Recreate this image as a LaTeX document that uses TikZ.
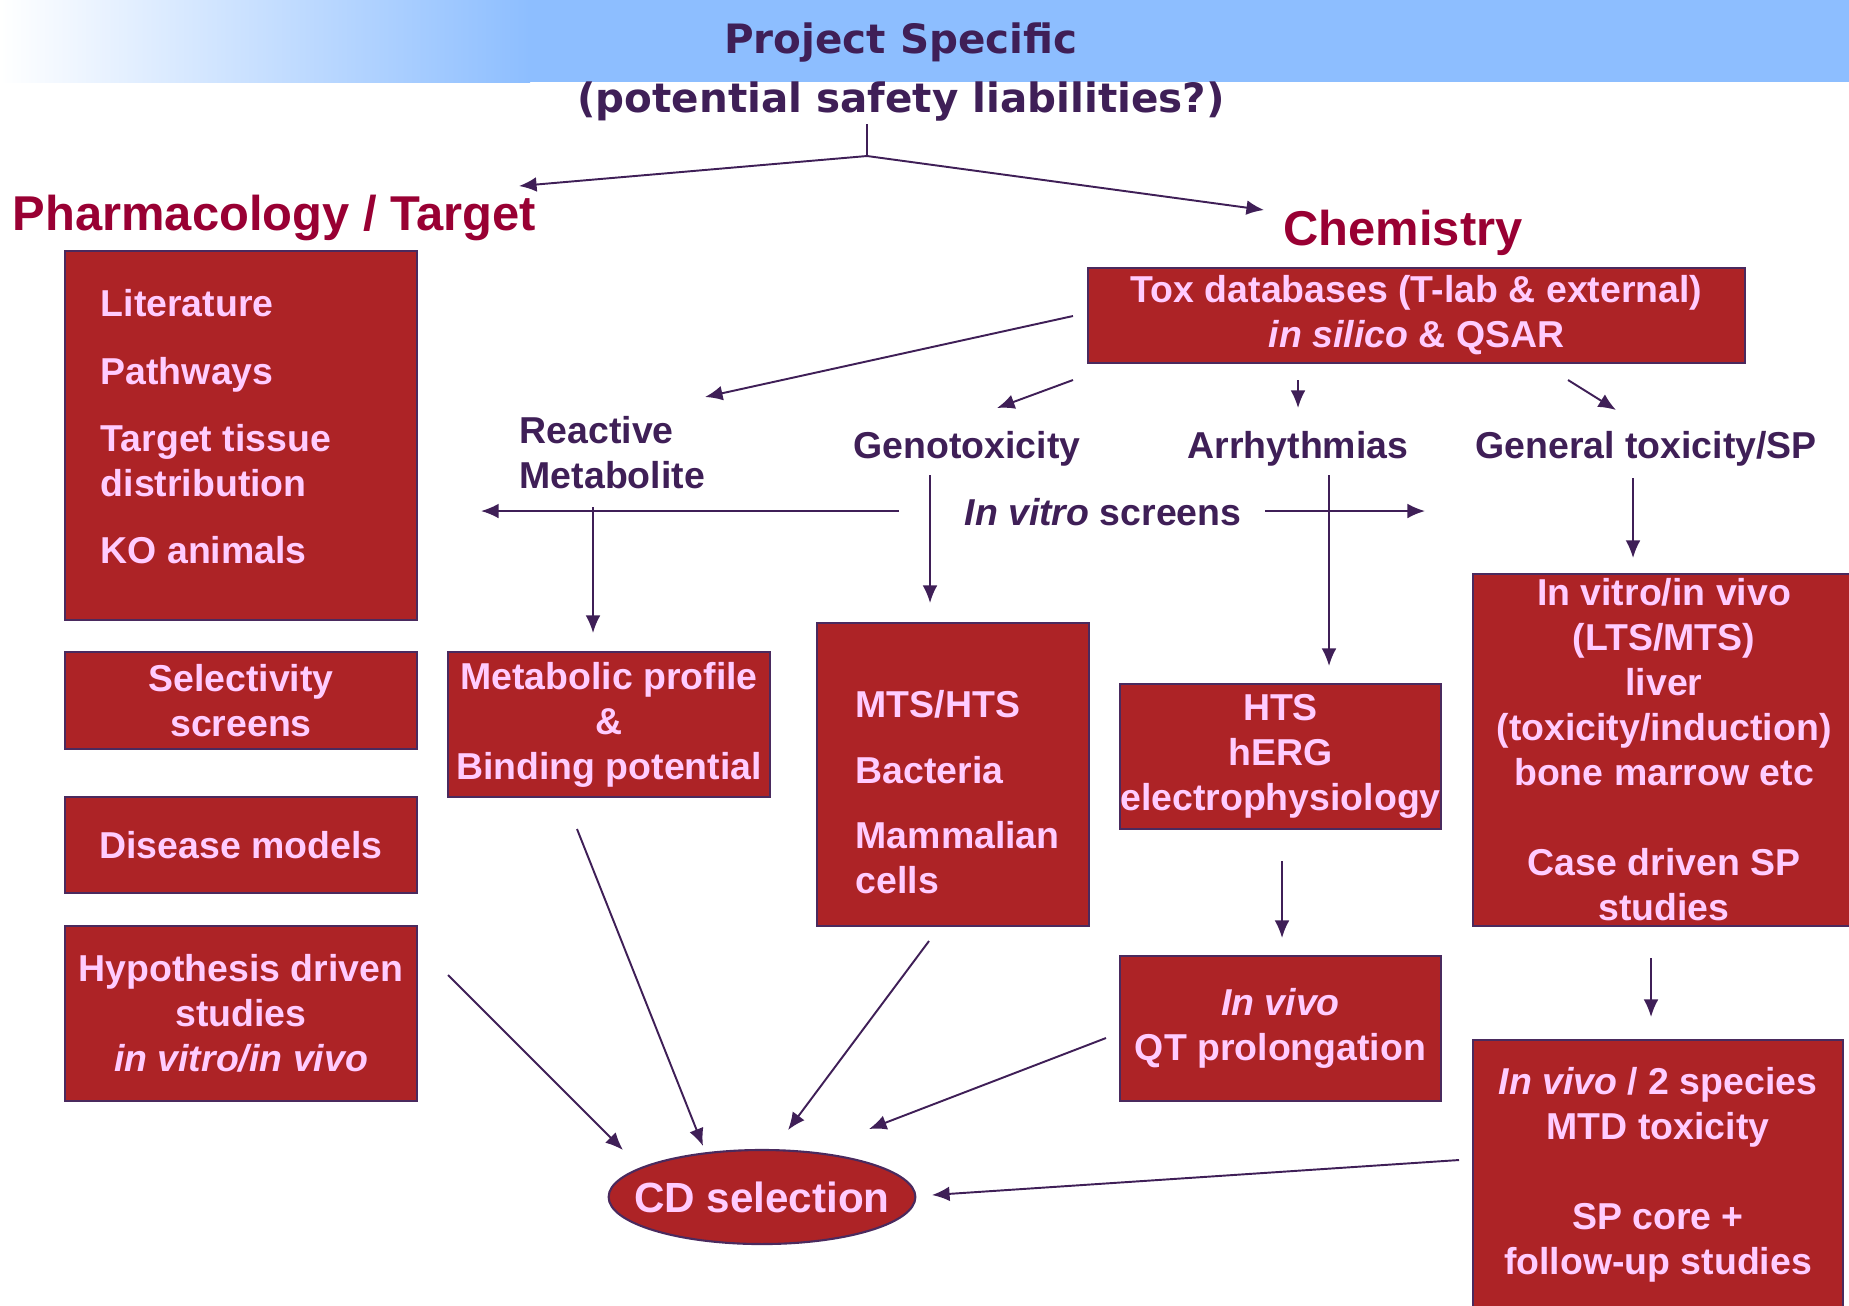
\documentclass[tikz,border=0pt]{standalone}
\usepackage{fontspec}
\setmainfont{Liberation Sans}
\newfontfamily\titlefont{DejaVu Sans}
\usetikzlibrary{arrows.meta,shapes.geometric}

\definecolor{boxred}{HTML}{AD2326}
\definecolor{boxline}{HTML}{4A2A5E}
\definecolor{boxpink}{HTML}{FFCCFF}
\definecolor{labelpurple}{HTML}{3F1F57}
\definecolor{headred}{HTML}{990033}
\definecolor{bandblue}{HTML}{8DBEFF}

\begin{document}
\begin{tikzpicture}[x=0.01cm,y=-0.01cm,
    >={Latex[length=5pt,width=4.2pt]},
    box/.style={draw=boxline,line width=0.6pt,fill=boxred,text=boxpink,
      font=\bfseries\fontsize{10.65}{12.8}\selectfont,align=center,inner sep=0pt},
    boxtxt/.style={text=boxpink,font=\bfseries\fontsize{10.65}{12.8}\selectfont,
      align=left,inner sep=0pt},
    lbl/.style={text=labelpurple,font=\bfseries\fontsize{10.65}{12.8}\selectfont,
      align=center,inner sep=0pt},
    head/.style={text=headred,font=\bfseries\fontsize{13.9}{16}\selectfont,inner sep=0pt},
    arr/.style={->,draw=labelpurple,line width=0.55pt},
    plain/.style={-,draw=labelpurple,line width=0.55pt}]

  \useasboundingbox (0,0) rectangle (1849,1305);
  \clip (0,0) rectangle (1849,1305);

  % title band
  \shade [left color=white,right color=bandblue] (0,0) rectangle (530,82);
  \fill [bandblue] (529,0) rectangle (1849,82);
  \node [lbl,font=\titlefont\bfseries\fontsize{11.5}{16.8}\selectfont] (proj) at (901,72)
    {Project Specific\\(potential safety liabilities?)};

  \node [head,anchor=west] (pharm) at (12,218) {Pharmacology / Target};
  \node [head] (chem) at (1403,233) {Chemistry};

  % pharmacology column
  \node [box,minimum width=3.52cm,minimum height=3.69cm] (lit) at (241,435.5) {};
  \node [boxtxt,anchor=north west] (littxt) at (100,289)
    {Literature\\[6.3pt]Pathways\\[6.3pt]Target tissue\\distribution\\[6.3pt]KO animals};
  \node [box,minimum width=3.52cm,minimum height=0.97cm] (sel) at (241,700.5) {Selectivity\\screens};
  \node [box,minimum width=3.52cm,minimum height=0.96cm] (dis) at (241,845) {Disease models};
  \node [box,minimum width=3.52cm,minimum height=1.75cm] (hyp) at (241,1013.5)
    {Hypothesis driven\\studies\\\textit{in vitro/in vivo}};

  % chemistry
  \node [box,minimum width=6.57cm,minimum height=0.95cm] (tox) at (1416.5,315.5)
    {Tox databases (T-lab \& external)\\\textit{in silico} \& QSAR};

  \node [lbl,anchor=north west,align=left] (react) at (519,416) {Reactive\\Metabolite};
  \node [lbl] (geno) at (967,449) {Genotoxicity};
  \node [lbl] (arrh) at (1298,449) {Arrhythmias};
  \node [lbl] (gentox) at (1646,449) {General toxicity/SP};
  \node [lbl] (screens) at (1103,512) {\textit{In vitro} screens};

  \node [box,minimum width=3.22cm,minimum height=1.45cm] (metab) at (609,724.5)
    {Metabolic profile\\\&\\Binding potential};
  \node [box,minimum width=2.72cm,minimum height=3.03cm] (mts) at (953,774.5) {};
  \node [boxtxt,anchor=north west] (mtstxt) at (855,690)
    {MTS/HTS\\[5.8pt]Bacteria\\[5.8pt]Mammalian\\cells};
  \node [box,minimum width=3.21cm,minimum height=1.45cm] (herg) at (1280.5,756.5)
    {HTS\\hERG\\electrophysiology};
  \node [box,minimum width=3.21cm,minimum height=1.45cm] (qt) at (1280.5,1028.5)
    {\textit{In vivo}\\QT prolongation};
  \node [box,minimum width=3.82cm,minimum height=3.52cm] (invitro) at (1664,750)
    {In vitro/in vivo\\(LTS/MTS)\\liver\\(toxicity/induction)\\bone marrow etc\\[12.8pt]Case driven SP\\studies};
  \node [box,minimum width=3.70cm,minimum height=2.70cm] (species) at (1658,1175)
    {\textit{In vivo} / 2 species\\MTD toxicity\\[12.8pt]SP core +\\follow-up studies};

  \node [box,ellipse,minimum width=3.04cm,minimum height=0.94cm,inner xsep=-5.5pt,
    font=\bfseries\fontsize{12}{14}\selectfont] (cd) at (762,1197) {CD selection};

  % connector ends
  \coordinate (topA) at (867,124);
  \coordinate (topB) at (867,156);
  \coordinate (pharmA) at (519,186);
  \coordinate (chemA) at (1264,210);
  \coordinate (toxR) at (1073,316);
  \coordinate (reactA) at (705,397);
  \coordinate (toxG) at (1073,380);
  \coordinate (genoA) at (997,408);
  \coordinate (toxA) at (1298,380);
  \coordinate (arrhA) at (1298,408);
  \coordinate (toxS) at (1568,380);
  \coordinate (gentoxA) at (1616,410);
  \coordinate (scrL) at (899,511);
  \coordinate (scrLend) at (481,511);
  \coordinate (scrR) at (1265,511);
  \coordinate (scrRend) at (1425,511);
  \coordinate (reactB) at (593,507);
  \coordinate (metabA) at (593,633);
  \coordinate (genoB) at (930,475);
  \coordinate (mtsA) at (930,603);
  \coordinate (arrhB) at (1329,475);
  \coordinate (hergA) at (1329,666);
  \coordinate (gentoxB) at (1633,478);
  \coordinate (invitroA) at (1633,558);
  \coordinate (hergB) at (1282,861);
  \coordinate (qtA) at (1282,938);
  \coordinate (invitroB) at (1651,958);
  \coordinate (speciesA) at (1651,1017);
  \coordinate (hypB) at (448,975);
  \coordinate (cdA) at (623,1150);
  \coordinate (metabB) at (577,829);
  \coordinate (cdB) at (703,1146);
  \coordinate (mtsB) at (929,941);
  \coordinate (cdC) at (788,1130);
  \coordinate (qtB) at (1106,1038);
  \coordinate (cdD) at (869,1129);
  \coordinate (speciesB) at (1459,1160);
  \coordinate (cdE) at (932,1195);

  \draw [plain] (topA) -- (topB);
  \draw [arr] (topB) -- (pharmA);
  \draw [arr] (topB) -- (chemA);

  \draw [arr] (toxR) -- (reactA);
  \draw [arr] (toxG) -- (genoA);
  \draw [arr] (toxA) -- (arrhA);
  \draw [arr] (toxS) -- (gentoxA);

  \draw [arr] (scrL) -- (scrLend);
  \draw [arr] (scrR) -- (scrRend);
  \draw [arr] (reactB) -- (metabA);
  \draw [arr] (genoB) -- (mtsA);
  \draw [arr] (arrhB) -- (hergA);
  \draw [arr] (gentoxB) -- (invitroA);
  \draw [arr] (hergB) -- (qtA);
  \draw [arr] (invitroB) -- (speciesA);

  \draw [arr] (hypB) -- (cdA);
  \draw [arr] (metabB) -- (cdB);
  \draw [arr] (mtsB) -- (cdC);
  \draw [arr] (qtB) -- (cdD);
  \draw [arr] (speciesB) -- (cdE);

\end{tikzpicture}
\end{document}
